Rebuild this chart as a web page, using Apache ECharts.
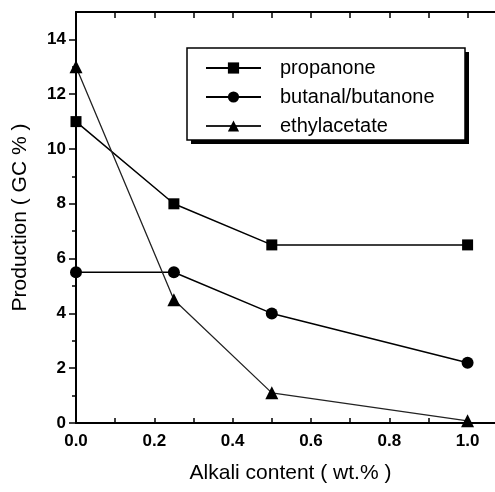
<!DOCTYPE html>
<html>
<head>
<meta charset="utf-8">
<script src="https://cdn.jsdelivr.net/npm/echarts@6/dist/echarts.min.js"></script>
<style>
html,body{margin:0;padding:0;background:#fff;}
#main{width:495px;height:492px;}
</style>
</head>
<body>
<div id="main"></div>
<script>
// alkali content (wt.%)
var alkali = [0, 0.25, 0.5, 1.0];
var propanone = [11, 8, 6.5, 6.5];
var butanal = [5.5, 5.5, 4, 2.2];
var ethylacetate = [13, 4.5, 1.1, 0.08];
var seriesNames = ['propanone', 'butanal/butanone', 'ethylacetate'];
var xTicks = [0, 0.2, 0.4, 0.6, 0.8, 1.0];
var xTicksTop = [0, 0.1, 0.2, 0.3, 0.4, 0.5, 0.6, 0.7, 0.8, 0.9, 1.0];
var yTicks = [0, 2, 4, 6, 8, 10, 12, 14];
var yMinorTicks = [1, 3, 5, 7, 9, 11, 13];

function pairs(ys) {
    return alkali.map(function (x, i) { return [x, ys[i]]; });
}

var font = 'Liberation Sans, Arial, sans-serif';
var chart = echarts.init(document.getElementById('main'));
chart.setOption({
    animation: false,
    backgroundColor: '#fff',
    grid: { left: 76, top: 12, right: 0, bottom: 69 },
    graphic: [
        { type: 'rect', z: 50, shape: { x: 191, y: 52, width: 278, height: 92 }, style: { fill: '#000' } },
        { type: 'rect', z: 51, shape: { x: 187, y: 48, width: 278, height: 92 }, style: { fill: '#fff', stroke: '#000', lineWidth: 1.5 } }
    ],
    legend: {
        left: 205, top: 58,
        z: 60,
        orient: 'vertical',
        data: seriesNames,
        itemWidth: 55, itemHeight: 14, itemGap: 9,
        padding: 0,
        textStyle: { fontFamily: font, fontSize: 20, color: '#000', padding: [0, 0, 0, 14] }
    },
    xAxis: [{
        type: 'value', min: 0, max: 1.07, interval: 0.2,
        name: 'Alkali content ( wt.% )', nameLocation: 'middle', nameGap: 40,
        nameTextStyle: { fontFamily: font, fontSize: 21, color: '#000', padding: [0, 0, 0, 10] },
        axisLine: { show: true, onZero: false, lineStyle: { color: '#000', width: 2 } },
        axisTick: { show: true, inside: true, length: 5, customValues: xTicksTop, lineStyle: { color: '#000', width: 1.5 } },
        axisLabel: { fontFamily: font, fontSize: 17, fontWeight: 'bold', color: '#000', margin: 10,
            customValues: xTicks,
            formatter: function (v) { return v.toFixed(1); } },
        splitLine: { show: false }
    }, {
        type: 'value', position: 'top', min: 0, max: 1.07, interval: 0.1,
        axisLine: { show: true, onZero: false, lineStyle: { color: '#000', width: 2 } },
        axisTick: { show: true, inside: true, length: 6, customValues: xTicksTop, lineStyle: { color: '#000', width: 1.5 } },
        axisLabel: { show: false },
        splitLine: { show: false }
    }],
    yAxis: [{
        type: 'value', min: 0, max: 15, interval: 1,
        name: 'Production ( GC % )', nameLocation: 'middle', nameGap: 45, nameRotate: 90,
        nameTextStyle: { fontFamily: font, fontSize: 21, color: '#000' },
        axisLine: { show: true, lineStyle: { color: '#000', width: 2 } },
        axisTick: { show: true, length: 7, customValues: yTicks, lineStyle: { color: '#000', width: 1.5 } },
        axisLabel: { fontFamily: font, fontSize: 17, fontWeight: 'bold', color: '#000', margin: 10,
            customValues: yTicks },
        splitLine: { show: false }
    }, {
        type: 'value', position: 'left', min: 0, max: 15, interval: 1,
        axisLine: { show: false },
        axisTick: { show: true, length: 4, customValues: yMinorTicks, lineStyle: { color: '#000', width: 1.5 } },
        axisLabel: { show: false },
        splitLine: { show: false }
    }],
    series: [{
        name: seriesNames[0], type: 'line', data: pairs(propanone),
        symbol: 'rect', symbolSize: 11,
        lineStyle: { color: '#000', width: 1.5 }, itemStyle: { color: '#000' }
    }, {
        name: seriesNames[1], type: 'line', data: pairs(butanal),
        symbol: 'circle', symbolSize: 12,
        lineStyle: { color: '#000', width: 1.5 }, itemStyle: { color: '#000' }
    }, {
        name: seriesNames[2], type: 'line', data: pairs(ethylacetate),
        symbol: 'triangle', symbolSize: 13,
        lineStyle: { color: '#222', width: 1.3 }, itemStyle: { color: '#000' }
    }]
});
</script>
</body>
</html>
